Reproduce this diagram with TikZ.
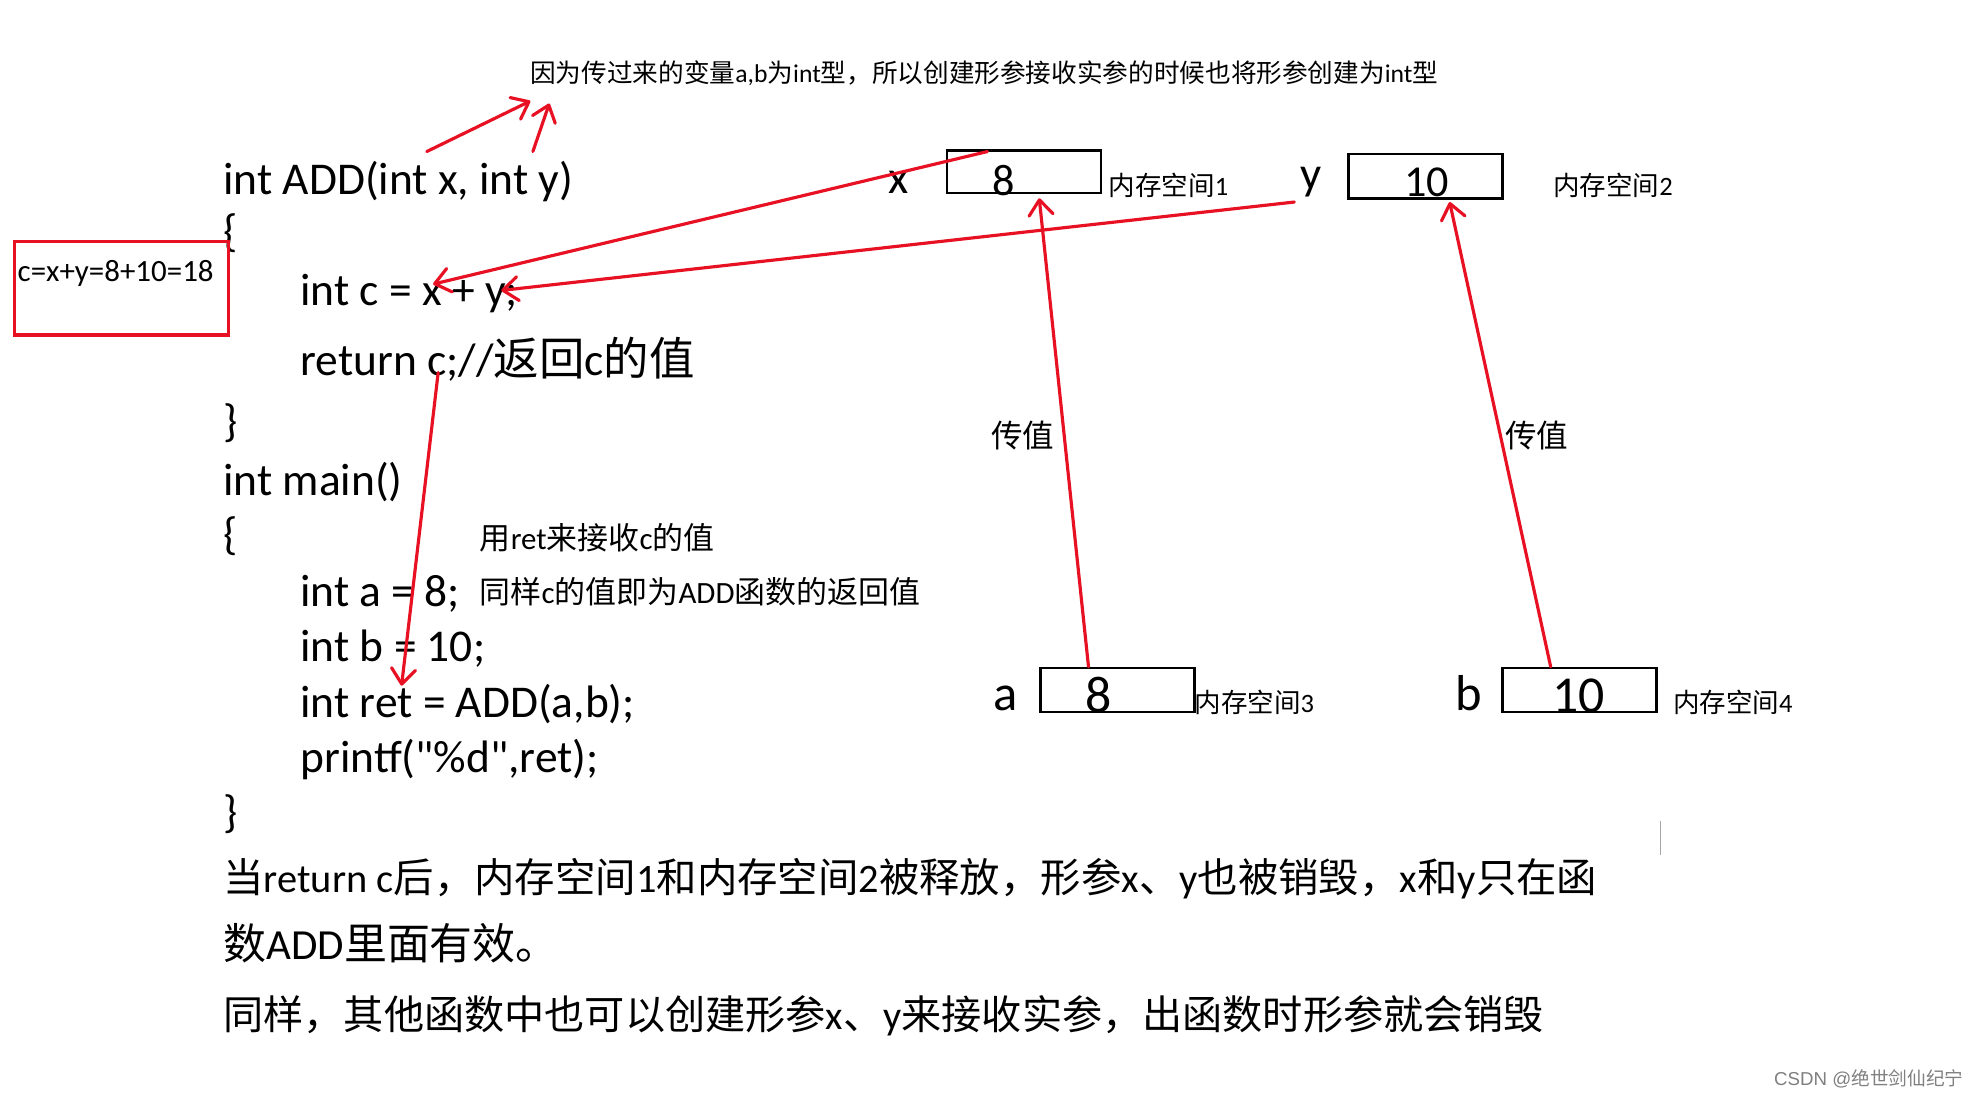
\documentclass[tikz,border=0pt]{standalone}
\usepackage{fontspec}
\setmainfont{Carlito}
\newfontfamily\zhfont{Noto Sans CJK SC}
\newfontfamily\wmfont{Liberation Sans}
\usetikzlibrary{arrows.meta}
\definecolor{penred}{RGB}{232,17,35}
\newcommand\zhs[1]{{\zhfont #1}}
\newcommand\fs[1]{\fontsize{#1}{#1}\selectfont}
\begin{document}
\begin{tikzpicture}[x=1pt,y=-1pt,
  txt/.style={inner sep=0pt, outer sep=0pt, anchor=base west},
  code/.style={txt, font=\fs{36}},
  memo/.style={txt, font=\fs{21}},
  note/.style={txt, font=\fs{24.5}},
  para/.style={txt, font=\fs{33}},
  cell/.style={draw=black, line width=2pt, minimum width=122pt, minimum height=35pt, inner sep=0pt, anchor=north west},
  digit/.style={inner sep=0pt, anchor=base},
  redarrow/.style={draw=penred, line width=2.5pt, line cap=round, -{Straight Barb[length=12pt,width=19pt,round]}},
]
\fill[white] (0,0) rectangle (1568,870);
\useasboundingbox (0,0) rectangle (1568,870);

% top annotation
\node[txt, font=\fs{20.3}] (top) at (420,65) {\zhs{因为传过来的变量}a,b\zhs{为}int\zhs{型，所以创建形参接收实参的时候也将形参创建为}int\zhs{型}};

% code
\node[code] (l1) at (177,154) {int ADD(int x, int y)};
\node[code] (l2) at (177,195) {\{};
\node[code] (l3) at (238,242) {int c = x + y;};
\node[code] (l4) at (238,297) {return c;//\zhs{返回}c\zhs{的值}};
\node[code] (l5) at (177,346) {\}};
\node[code] (l6) at (177,392) {int main()};
\node[code] (l7) at (177,435) {\{};
\node[code] (l8) at (238,480) {int a = 8;};
\node[code] (l9) at (238,524) {int b = 10;};
\node[code] (l10) at (238,568) {int ret = ADD(a,b);};
\node[code] (l11) at (238,612) {\addfontfeatures{Ligatures=TeXOff}printf("\%d",ret);};
\node[code] (l12) at (177,655) {\}};

% notes
\node[note] (n1) at (380,435) {\zhs{用}ret\zhs{来接收}c\zhs{的值}};
\node[note] (n2) at (380,478) {\zhs{同样}c\zhs{的值即为}ADD\zhs{函数的返回值}};

% red box
\node[draw=penred, line width=2.5pt, minimum width=170pt, minimum height=74pt, inner sep=0pt, anchor=north west] (rb) at (10,190) {};
\node[txt, font=\fs{24.5}] (rbt) at (14,223) {c=x+y=8+10=18};

% memory cells
\node[cell, minimum height=34pt] (bx) at (749,118) {};
\node[digit, font=\fs{35}] (vx) at (795,155) {8};
\node[txt, anchor=base, font=\fs{37}] (lx) at (712,153) {x};
\node[memo] (mx) at (878,155) {\zhs{内存空间}1};

\node[cell] (by) at (1067,121) {};
\node[digit, font=\fs{35}] (vy) at (1130,156) {10};
\node[txt, anchor=base, font=\fs{37}] (ly) at (1038,150) {y};
\node[memo] (my) at (1230,155) {\zhs{内存空间}2};

\node[cell] (ba) at (823,528) {};
\node[digit, font=\fs{41}] (va) at (870,564) {8};
\node[txt, anchor=base, font=\fs{40}] (la) at (796,563) {a};
\node[memo] (ma) at (946,564) {\zhs{内存空间}3};

\node[cell] (bb) at (1189,528) {};
\node[digit, font=\fs{41}] (vb) at (1250,564) {10};
\node[txt, anchor=base, font=\fs{40}] (lb) at (1163,563) {b};
\node[memo] (mb) at (1325,564) {\zhs{内存空间}4};

\node[txt, anchor=base, font=\fs{25}] (t1) at (810,354) {\zhs{传值}};
\node[txt, anchor=base, font=\fs{25}] (t2) at (1217,354) {\zhs{传值}};

% bottom paragraphs
\node[para, font=\fs{32}] (p1) at (177,707) {\zhs{当}return c\zhs{后，内存空间}1\zhs{和内存空间}2\zhs{被释放，形参}x\zhs{、}y\zhs{也被销毁，}x\zhs{和}y\zhs{只在函}};
\node[para, font=\fs{34}] (p2) at (177,760) {\zhs{数}ADD\zhs{里面有效。}};
\node[para, font=\fs{31.8}] (p3) at (177,815) {\zhs{同样，其他函数中也可以创建形参}x\zhs{、}y\zhs{来接收实参，出函数时形参就会销毁}};

% watermark
\node[txt, font=\fs{14.8}, text=gray] (wm) at (1405,860) {\wmfont CSDN @\zhs{绝世剑仙纪宁}};

% cursor mark
\draw[gray!70, line width=0.8pt] (1315,650) -- (1315,677);

% arrow end points
\coordinate (a1s) at (862,528);
\coordinate (a1e) at (823,157);
\coordinate (a2s) at (1228,528);
\coordinate (a2e) at (1148,160);
\coordinate (a3s) at (782,120);
\coordinate (a3e) at (343,225);
\coordinate (a4s) at (1025,160);
\coordinate (a4e) at (397,230);
\coordinate (a5s) at (347,295);
\coordinate (a5e) at (318,543);
\coordinate (a6s) at (338,120);
\coordinate (a6e) at (420,80);
\coordinate (a7s) at (422,120);
\coordinate (a7e) at (435,82);

\draw[redarrow] (a1s) -- (a1e);
\draw[redarrow] (a2s) -- (a2e);
\draw[redarrow] (a3s) -- (a3e);
\draw[redarrow] (a4s) -- (a4e);
\draw[redarrow] (a5s) -- (a5e);
\draw[redarrow] (a6s) -- (a6e);
\draw[redarrow] (a7s) -- (a7e);
\end{tikzpicture}
\end{document}
